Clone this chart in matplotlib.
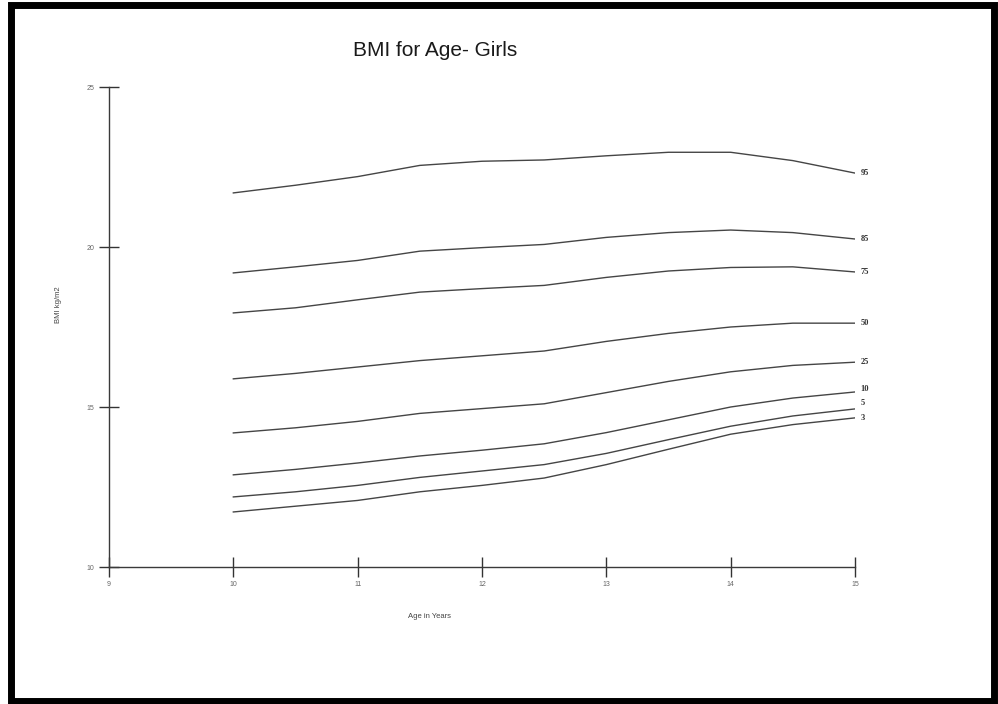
import matplotlib
matplotlib.use("Agg")
import matplotlib.pyplot as plt
from matplotlib.patches import Rectangle

plt.rcParams['font.family'] = ['Liberation Sans', 'DejaVu Sans']

ages = [10.0, 10.5, 11.0, 11.5, 12.0, 12.5, 13.0, 13.5, 14.0, 14.5, 15.0]

p95 = [21.69, 21.93, 22.20, 22.55, 22.68, 22.72, 22.85, 22.96, 22.96, 22.70, 22.31]
p85 = [19.19, 19.38, 19.58, 19.87, 19.98, 20.08, 20.30, 20.45, 20.53, 20.45, 20.25]
p75 = [17.94, 18.10, 18.35, 18.59, 18.70, 18.80, 19.05, 19.25, 19.36, 19.38, 19.22]
p50 = [15.88, 16.05, 16.25, 16.45, 16.60, 16.75, 17.05, 17.30, 17.50, 17.62, 17.62]
p25 = [14.19, 14.35, 14.55, 14.80, 14.95, 15.10, 15.45, 15.80, 16.10, 16.30, 16.40]
p10 = [12.88, 13.05, 13.25, 13.47, 13.65, 13.85, 14.20, 14.60, 15.00, 15.28, 15.47]
p5 = [12.19, 12.35, 12.55, 12.80, 13.00, 13.20, 13.55, 13.98, 14.40, 14.72, 14.94]
p3 = [11.72, 11.90, 12.08, 12.35, 12.55, 12.78, 13.20, 13.68, 14.15, 14.45, 14.66]

percentile_labels = ["95", "85", "75", "50", "25", "10", "5", "3"]
series = [p95, p85, p75, p50, p25, p10, p5, p3]

x_ticks = [9, 10, 11, 12, 13, 14, 15]
y_ticks = [10, 15, 20, 25]

title = "BMI for Age- Girls"
x_label = "Age in Years"
y_label = "BMI kg/m2"

# label vertical nudges (points) for the crowded low-percentile labels
label_nudge = {"95": 0, "85": 0, "75": 0, "50": 0, "25": 0, "10": 2, "5": 4, "3": 0}

fig = plt.figure(figsize=(9.98, 7.04), dpi=100)
ax = fig.add_axes([109 / 998, 1 - 567 / 704, (855 - 109) / 998, (567 - 87) / 704])

line_color = "#454545"
for lab, vals in zip(percentile_labels, series):
    ax.plot(ages, vals, color=line_color, lw=1.0, solid_joinstyle="round")
    ax.annotate(lab, xy=(ages[-1], vals[-1]), xytext=(4, label_nudge[lab]),
                textcoords="offset points", fontsize=6, fontweight="bold",
                family=["Liberation Serif", "DejaVu Serif"],
                color="#333333", va="center", ha="left", annotation_clip=False)

ax.set_xlim(9, 15)
ax.set_ylim(10, 25)
ax.set_xticks(x_ticks)
ax.set_yticks(y_ticks)
ax.tick_params(axis="both", direction="inout", length=15, width=1.0,
               colors="#333333", labelsize=5, labelcolor="#666666", pad=3)
ax.tick_params(axis="x", length=14)

for side in ["top", "right"]:
    ax.spines[side].set_visible(False)
for side in ["left", "bottom"]:
    ax.spines[side].set_color("#3a3a3a")
    ax.spines[side].set_linewidth(1.0)

fig.text(435 / 998, 1 - 50 / 704, title, fontsize=15, ha="center", va="center",
         color="#1a1a1a")
fig.text(430 / 998, 1 - 617 / 704, x_label, fontsize=5.5, ha="center", va="center",
         color="#444444")
fig.text(58 / 998, 1 - 305 / 704, y_label, fontsize=5.5, ha="center", va="center",
         rotation=90, color="#444444")

# thick black frame around the picture
fig.patches.append(Rectangle((10.5 / 998, 3.5 / 704), (994 - 10.5) / 998, (695 - 3.5) / 704 + 4.5 / 704,
                             transform=fig.transFigure, fill=False,
                             edgecolor="black", linewidth=5.0, zorder=10))

fig.savefig("out.png", dpi=100)
